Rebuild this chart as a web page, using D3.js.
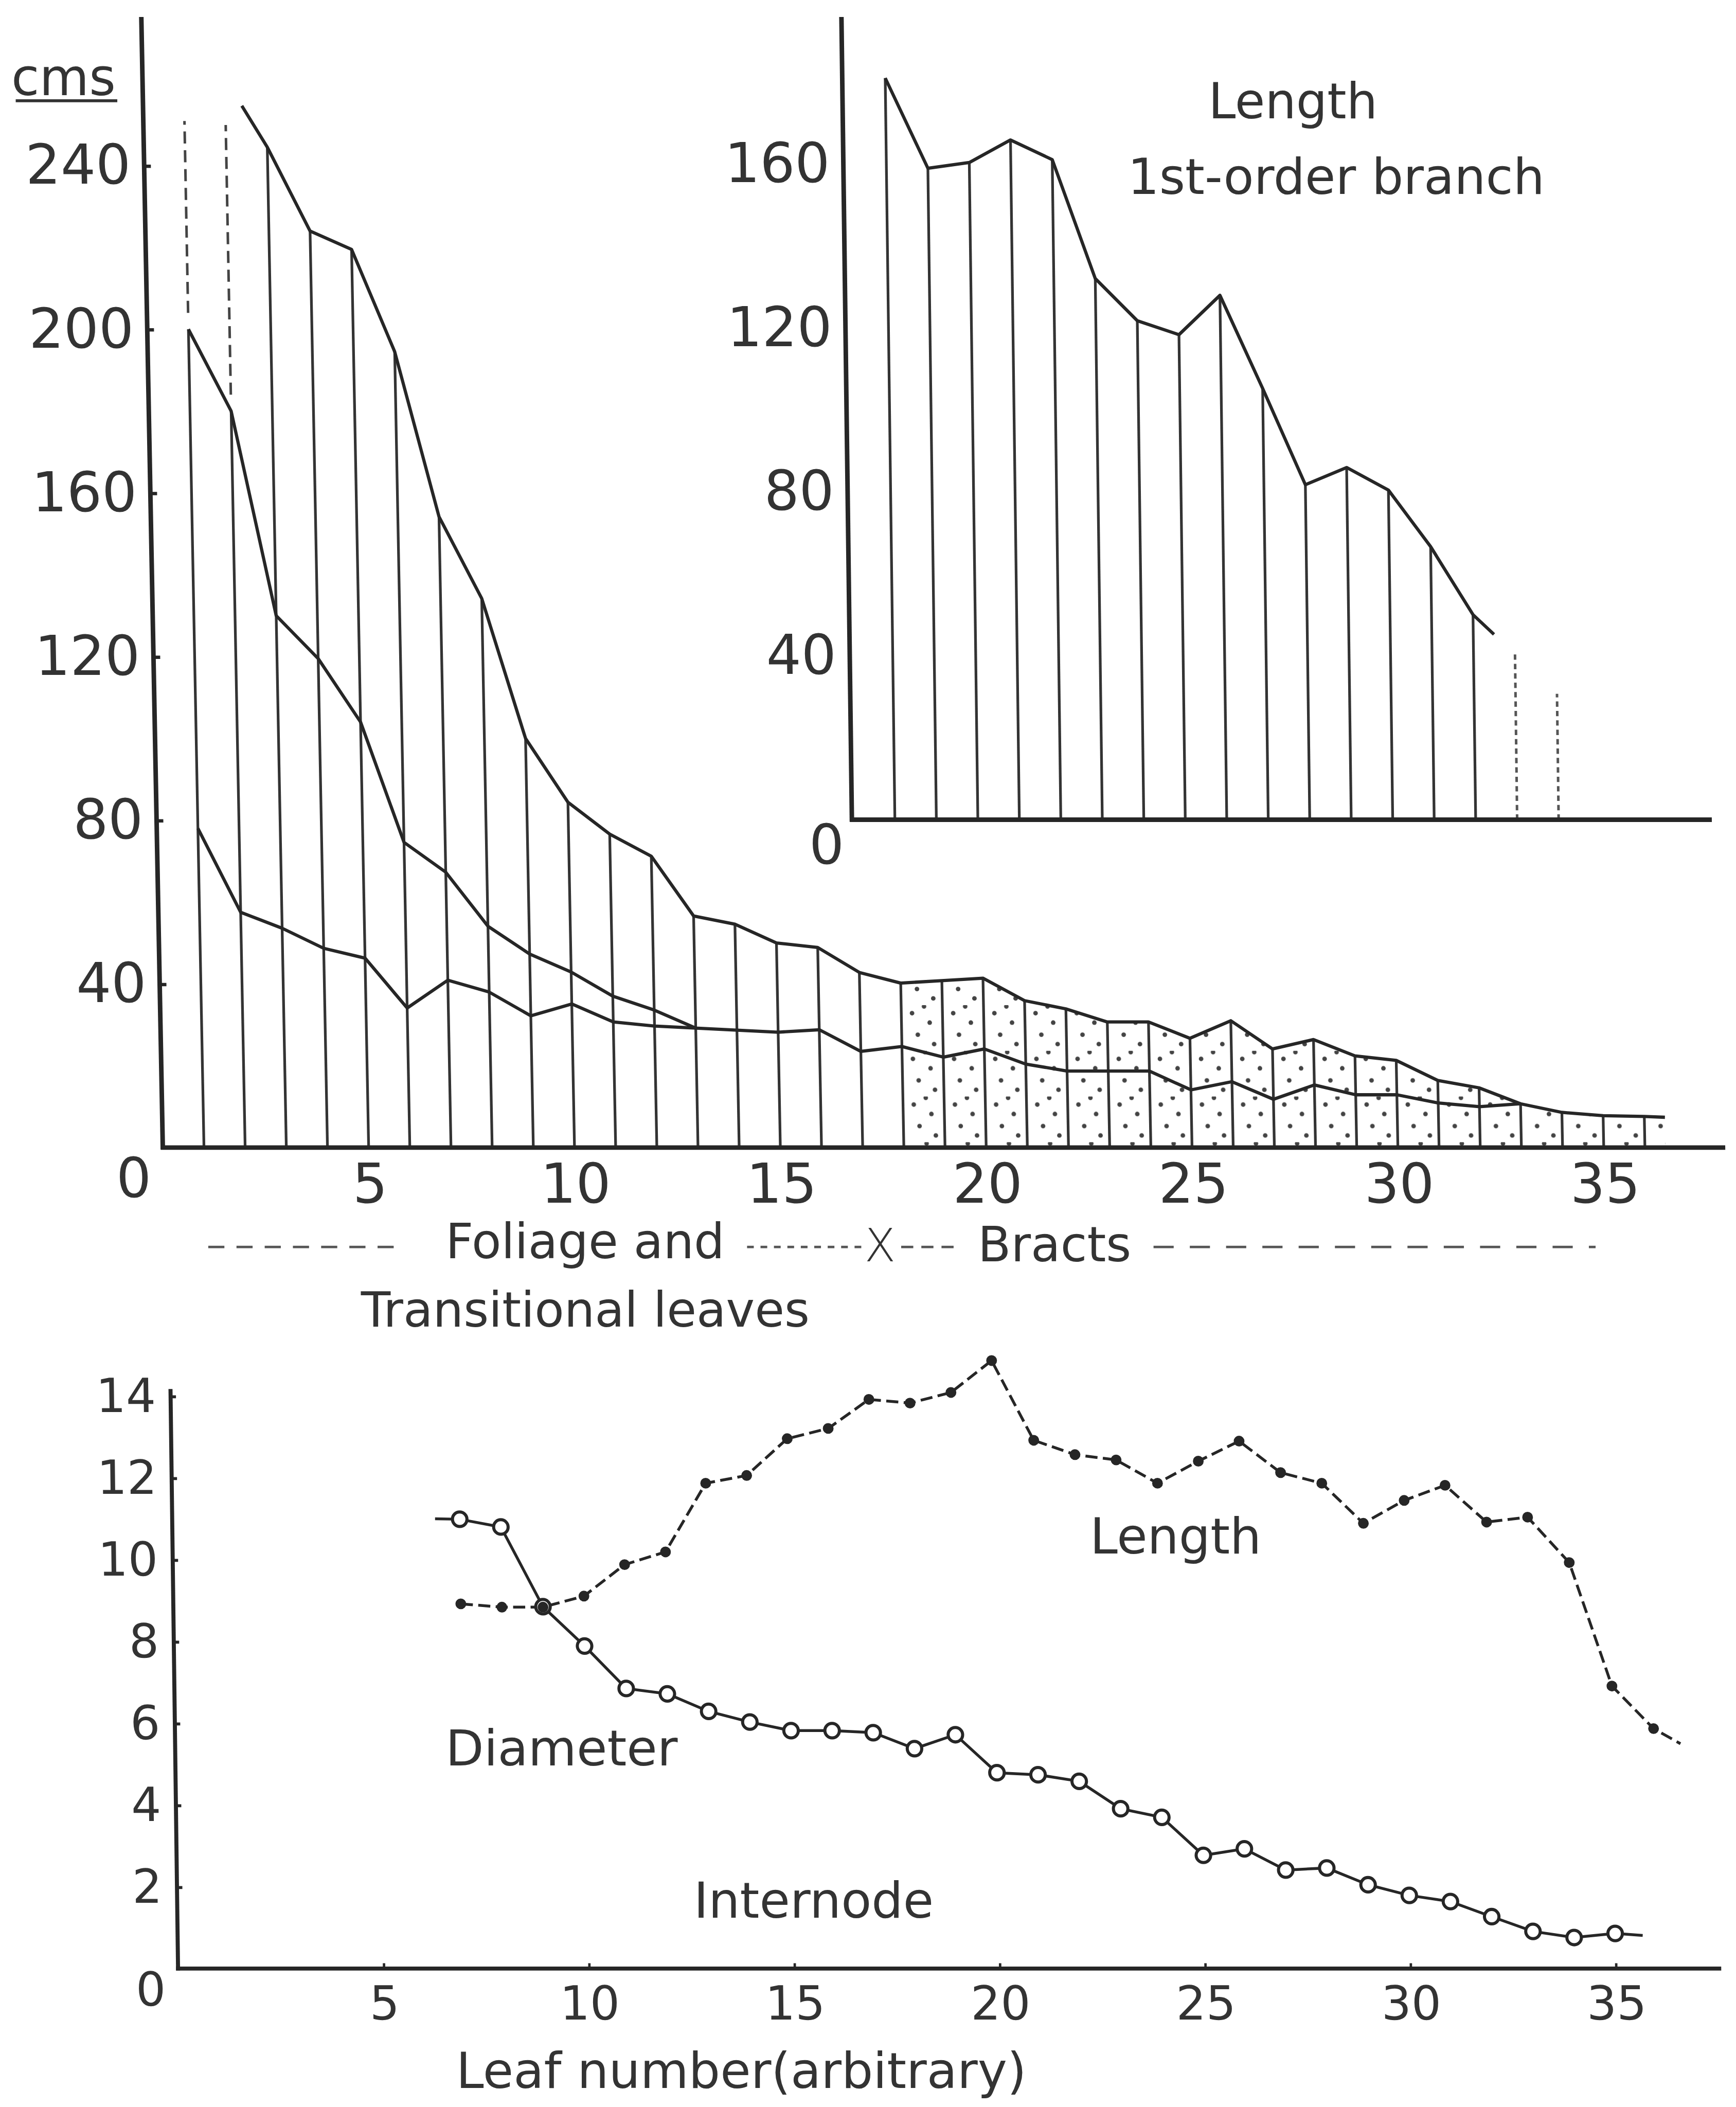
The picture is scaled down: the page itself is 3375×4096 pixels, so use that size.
<!DOCTYPE html>
<html>
<head>
<meta charset="utf-8">
<script src="https://cdn.jsdelivr.net/npm/d3@7"></script>
<style>
html, body { margin: 0; padding: 0; background: #fff; }
svg { display: block; }
text { font-family: "DejaVu Sans", sans-serif; fill: #333; }
</style>
</head>
<body>
<script>
// ---- main panel: leaf lengths (cms) ----
const topLeaves = d3.range(3, 37);
const topValues = [244.5, 224, 219.5, 194.5, 154.2, 134.2, 100, 84.4, 76.6, 71.2, 56.6, 54.6,
  50, 48.9, 42.8, 40.2, 40.8, 41.4, 35.9, 33.9, 30.7, 30.7, 26.7, 31, 24.1, 26.4, 22.4, 21.3,
  16.4, 14.6, 10.7, 8.6, 7.8, 7.6];
const topLead = { leaf: 2.4, v: 254.6 };
const topTail = { leaf: 36.5, v: 7.4 };

const midLeaves = d3.range(1, 34);
const midValues = [200, 180, 130, 119.5, 104, 74.6, 67.3, 54.1, 47.3, 42.9, 37, 33.6, 29.2,
  28.7, 28.2, 28.8, 23.5, 24.7, 22.1, 24.1, 20.4, 18.7, 18.7, 18.7, 14.1, 16.1, 11.8, 15.3,
  12.9, 12.9, 10.9, 10, 10.7];

const lowLeaves = d3.range(1, 14);
const lowValues = [78, 57.5, 53.6, 48.7, 46.3, 34.1, 40.9, 38, 32.2, 35.1, 30.7, 29.7, 29.2];

const dashedLeaves = [1, 2];
const dashedTops = [250.9, 249.9];

const bractStart = 18;
const mainYTicks = [40, 80, 120, 160, 200, 240];
const mainXTicks = [5, 10, 15, 20, 25, 30, 35];

// ---- inset: 1st-order branch length ----
const branchLeaves = d3.range(18, 33);
const branchValues = [180.9, 158.9, 160.3, 165.8, 161, 132, 121.7, 118.3, 127.9, 105.2, 81.7,
  85.9, 80.4, 66.6, 50];
const branchTail = { leaf: 32.5, v: 45.2 };
const branchDashedLeaves = [33, 34];
const branchDashedValues = [40.4, 30.7];
const insetYTicks = [40, 80, 120, 160];

// ---- lower panel ----
const lengthLeaves = d3.range(7, 37);
const lengthValues = [8.92, 8.84, 8.84, 9.11, 9.88, 10.19, 11.87, 12.06, 12.96, 13.21, 13.92,
  13.83, 14.09, 14.87, 12.92, 12.57, 12.44, 11.87, 12.41, 12.9, 12.13, 11.87, 10.89, 11.45,
  11.82, 10.92, 11.04, 9.93, 6.91, 5.87];
const lengthTail = { leaf: 36.65, v: 5.5 };

const diamLeaves = d3.range(7, 36);
const diamValues = [10.99, 10.8, 8.85, 7.89, 6.85, 6.72, 6.29, 6.03, 5.82, 5.82, 5.77, 5.38,
  5.72, 4.79, 4.74, 4.58, 3.91, 3.7, 2.77, 2.93, 2.41, 2.46, 2.05, 1.79, 1.64, 1.27, 0.91,
  0.76, 0.86];
const diamLead = { leaf: 6.4, v: 11.0 };
const diamTail = { leaf: 35.67, v: 0.81 };

const lowYTicks = [2, 4, 6, 8, 10, 12, 14];
const lowXTicks = [5, 10, 15, 20, 25, 30, 35];

// ---------------------------------------------------------------
const W = 1292, H = 1568;
const ink = "#262626";

const svg = d3.select("body").append("svg")
  .attr("width", 3375)
  .attr("height", 4096)
  .attr("viewBox", `0 0 ${W} ${H}`);

svg.append("rect").attr("width", W).attr("height", H).attr("fill", "#fff");

// hand drawn sheet leans a little: shear each panel around its baseline
function lean(base, k) {
  return `translate(${-k * base},0) skewX(${Math.atan(k) * 180 / Math.PI})`;
}

const defs = svg.append("defs");
const pat = defs.append("pattern")
  .attr("id", "stipple")
  .attr("patternUnits", "userSpaceOnUse")
  .attr("width", 30.64)
  .attr("height", 34)
  .attr("patternTransform", "translate(121.16,0)");
[[8, 6], [21, 13], [12, 22], [24, 29], [17, 1]].forEach(p => {
  pat.append("circle").attr("cx", p[0]).attr("cy", p[1]).attr("r", 1.7).attr("fill", "#444");
});

const line = (x, y) => d3.line().x(d => x(d.leaf)).y(d => y(d.v));
const pts = (ls, vs) => ls.map((l, i) => ({ leaf: l, v: vs[i] }));

// ================= main panel =================
const xm = d3.scaleLinear().domain([0, 37]).range([121.16, 121.16 + 30.64 * 37]);
const ym = d3.scaleLinear().domain([0, 240]).range([854, 854 - 3.045 * 240]);

const gm = svg.append("g").attr("transform", lean(854, 0.019));

const topPts = [topLead].concat(pts(topLeaves, topValues), [topTail]);
const midPts = pts(midLeaves, midValues);
const lowPts = pts(lowLeaves, lowValues);

// stippled bract region
gm.append("path")
  .datum(topPts.filter(d => d.leaf >= bractStart))
  .attr("d", d3.area().x(d => xm(d.leaf)).y0(ym(0)).y1(d => ym(d.v)))
  .attr("fill", "url(#stipple)");

// vertical leaf lines
gm.append("g").selectAll("line")
  .data(pts(topLeaves, topValues))
  .join("line")
  .attr("x1", d => xm(d.leaf)).attr("x2", d => xm(d.leaf))
  .attr("y1", ym(0)).attr("y2", d => ym(d.v))
  .attr("stroke", "#333").attr("stroke-width", 2);

gm.append("g").selectAll("line")
  .data(dashedLeaves.map(l => ({ leaf: l, v: midValues[midLeaves.indexOf(l)] })))
  .join("line")
  .attr("x1", d => xm(d.leaf)).attr("x2", d => xm(d.leaf))
  .attr("y1", ym(0)).attr("y2", d => ym(d.v))
  .attr("stroke", "#333").attr("stroke-width", 2);

gm.append("g").selectAll("line")
  .data(dashedLeaves.map((l, i) => ({ leaf: l, top: dashedTops[i], v: midValues[midLeaves.indexOf(l)] })))
  .join("line")
  .attr("x1", d => xm(d.leaf)).attr("x2", d => xm(d.leaf))
  .attr("y1", d => ym(d.v + 4)).attr("y2", d => ym(d.top))
  .attr("stroke", "#444").attr("stroke-width", 1.9)
  .attr("stroke-dasharray", "9,5");

[topPts, midPts, lowPts].forEach(s => {
  gm.append("path").datum(s)
    .attr("d", line(xm, ym))
    .attr("fill", "none").attr("stroke", ink)
    .attr("stroke-width", 2.4).attr("stroke-linejoin", "round");
});

// axes
const yAxM = gm.append("g")
  .attr("transform", `translate(${xm(0)},0)`)
  .attr("color", ink)
  .call(d3.axisLeft(ym).tickValues(mainYTicks).tickSizeInner(-5).tickSizeOuter(0).tickPadding(10));
yAxM.select(".domain").remove();
yAxM.selectAll("line").attr("stroke-width", 2.5);
yAxM.selectAll("text").attr("font-size", 41).attr("font-family", "DejaVu Sans").attr("fill", "#333");

const xAxM = gm.append("g")
  .attr("transform", `translate(0,${ym(0)})`)
  .call(d3.axisBottom(xm).tickValues(mainXTicks).tickSize(0).tickPadding(12));
xAxM.select(".domain").remove();
xAxM.selectAll("text").attr("font-size", 41).attr("font-family", "DejaVu Sans").attr("fill", "#333");

gm.append("line").attr("x1", xm(0)).attr("x2", xm(0)).attr("y1", ym(0) + 1.5).attr("y2", 12.6)
  .attr("stroke", ink).attr("stroke-width", 3.4);
gm.append("line").attr("x1", xm(0) - 1.5).attr("x2", 1284).attr("y1", ym(0)).attr("y2", ym(0))
  .attr("stroke", ink).attr("stroke-width", 3.4);
gm.append("text").attr("x", xm(0) - 22).attr("y", ym(0) + 22)
  .attr("text-anchor", "middle").attr("dy", "0.36em").attr("font-size", 41).text("0");

svg.append("text").attr("x", 8.4).attr("y", 70.8).attr("font-size", 38).text("cms");
svg.append("line").attr("x1", 11.7).attr("x2", 87.3).attr("y1", 75).attr("y2", 75)
  .attr("stroke", "#333").attr("stroke-width", 2.2);

// ================= inset =================
const xi = d3.scaleLinear().domain([18, 34]).range([666, 1160]);
const yi = d3.scaleLinear().domain([0, 160]).range([610, 610 - 3.051 * 160]);
const insetAxisX = 634;

const gi = svg.append("g").attr("transform", lean(610, 0.013));

gi.append("g").selectAll("line")
  .data(pts(branchLeaves, branchValues))
  .join("line")
  .attr("x1", d => xi(d.leaf)).attr("x2", d => xi(d.leaf))
  .attr("y1", yi(0)).attr("y2", d => yi(d.v))
  .attr("stroke", "#333").attr("stroke-width", 2);

gi.append("g").selectAll("line")
  .data(pts(branchDashedLeaves, branchDashedValues))
  .join("line")
  .attr("x1", d => xi(d.leaf)).attr("x2", d => xi(d.leaf))
  .attr("y1", yi(0)).attr("y2", d => yi(d.v))
  .attr("stroke", "#555").attr("stroke-width", 1.9)
  .attr("stroke-dasharray", "4,3");

gi.append("path").datum(pts(branchLeaves, branchValues).concat([branchTail]))
  .attr("d", line(xi, yi))
  .attr("fill", "none").attr("stroke", ink)
  .attr("stroke-width", 2.4).attr("stroke-linejoin", "round");

const yAxI = gi.append("g")
  .attr("transform", `translate(${insetAxisX},0)`)
  .call(d3.axisLeft(yi).tickValues(insetYTicks).tickSize(0).tickPadding(10));
yAxI.select(".domain").remove();
yAxI.selectAll("text").attr("font-size", 41).attr("font-family", "DejaVu Sans").attr("fill", "#333");

gi.append("line").attr("x1", insetAxisX).attr("x2", insetAxisX).attr("y1", yi(0) + 1.5).attr("y2", 12.6)
  .attr("stroke", ink).attr("stroke-width", 3.4);
gi.append("line").attr("x1", insetAxisX - 1.5).attr("x2", 1274).attr("y1", yi(0)).attr("y2", yi(0))
  .attr("stroke", ink).attr("stroke-width", 3.4);
gi.append("text").attr("x", insetAxisX - 19).attr("y", yi(0) + 18)
  .attr("text-anchor", "middle").attr("dy", "0.36em").attr("font-size", 41).text("0");

svg.append("text").attr("x", 962.3).attr("y", 88.2).attr("text-anchor", "middle")
  .attr("font-size", 36.5).text("Length");
svg.append("text").attr("x", 994.4).attr("y", 144.5).attr("text-anchor", "middle")
  .attr("font-size", 37).text("1st-order branch");

// ================= legend row =================
const dash = (x1, x2, y, da) => svg.append("line")
  .attr("x1", x1).attr("x2", x2).attr("y1", y).attr("y2", y)
  .attr("stroke", "#555").attr("stroke-width", 1.8).attr("stroke-dasharray", da);
dash(155, 302, 928, "12,9");
svg.append("text").attr("x", 331.6).attr("y", 936.5).attr("font-size", 36).text("Foliage and");
dash(556, 642, 928, "5,5");
svg.append("text").attr("x", 655).attr("y", 938.5).attr("text-anchor", "middle")
  .attr("font-size", 34).attr("font-weight", 300).text("X");
dash(670.7, 715, 928, "9,6");
svg.append("text").attr("x", 727.7).attr("y", 938.6).attr("font-size", 36).text("Bracts");
dash(858.5, 1187.5, 928, "15,12");
svg.append("text").attr("x", 268.6).attr("y", 987.3).attr("font-size", 36).text("Transitional leaves");

// ================= lower panel =================
const xb = d3.scaleLinear().domain([0, 35]).range([132.5, 1202.4]);
const yb = d3.scaleLinear().domain([0, 14]).range([1465, 1039]);

const gb = svg.append("g").attr("transform", lean(1465, 0.013));

const diamPts = [diamLead].concat(pts(diamLeaves, diamValues), [diamTail]);
const lengthPts = pts(lengthLeaves, lengthValues).concat([lengthTail]);

gb.append("path").datum(diamPts)
  .attr("d", line(xb, yb))
  .attr("fill", "none").attr("stroke", ink).attr("stroke-width", 2.1);
gb.append("path").datum(lengthPts)
  .attr("d", line(xb, yb))
  .attr("fill", "none").attr("stroke", ink).attr("stroke-width", 2.1)
  .attr("stroke-dasharray", "9,4");

gb.append("g").selectAll("circle")
  .data(pts(diamLeaves, diamValues))
  .join("circle")
  .attr("cx", d => xb(d.leaf)).attr("cy", d => yb(d.v)).attr("r", 5.4)
  .attr("fill", "#fff").attr("stroke", ink).attr("stroke-width", 2.3);

gb.append("g").selectAll("circle")
  .data(pts(lengthLeaves, lengthValues))
  .join("circle")
  .attr("cx", d => xb(d.leaf)).attr("cy", d => yb(d.v)).attr("r", 4)
  .attr("fill", ink);

const yAxB = gb.append("g")
  .attr("transform", `translate(${xb(0)},0)`)
  .attr("color", ink)
  .call(d3.axisLeft(yb).tickValues(lowYTicks).tickSizeInner(-4).tickSizeOuter(0).tickPadding(11));
yAxB.select(".domain").remove();
yAxB.selectAll("line").attr("stroke-width", 2.2);
yAxB.selectAll("text").attr("font-size", 35).attr("font-family", "DejaVu Sans").attr("fill", "#333");

const xAxB = gb.append("g")
  .attr("transform", `translate(0,${yb(0)})`)
  .attr("color", ink)
  .call(d3.axisBottom(xb).tickValues(lowXTicks).tickSizeInner(-4).tickSizeOuter(0).tickPadding(13));
xAxB.select(".domain").remove();
xAxB.selectAll("line").attr("stroke-width", 1.8);
xAxB.selectAll("text").attr("font-size", 35).attr("font-family", "DejaVu Sans").attr("fill", "#333");

gb.append("line").attr("x1", xb(0)).attr("x2", xb(0)).attr("y1", yb(0) + 1.5).attr("y2", 1033.7)
  .attr("stroke", ink).attr("stroke-width", 3);
gb.append("line").attr("x1", xb(0) - 1.5).attr("x2", 1281).attr("y1", yb(0)).attr("y2", yb(0))
  .attr("stroke", ink).attr("stroke-width", 3);
gb.append("text").attr("x", xb(0) - 20.5).attr("y", yb(0) + 15)
  .attr("text-anchor", "middle").attr("dy", "0.36em").attr("font-size", 35).text("0");

svg.append("text").attr("x", 875).attr("y", 1156).attr("text-anchor", "middle")
  .attr("font-size", 37).text("Length");
svg.append("text").attr("x", 418).attr("y", 1314).attr("text-anchor", "middle")
  .attr("font-size", 37).text("Diameter");
svg.append("text").attr("x", 605.6).attr("y", 1427).attr("text-anchor", "middle")
  .attr("font-size", 37).text("Internode");
svg.append("text").attr("x", 551.7).attr("y", 1553.9).attr("text-anchor", "middle")
  .attr("font-size", 37).text("Leaf number(arbitrary)");
</script>
</body>
</html>
